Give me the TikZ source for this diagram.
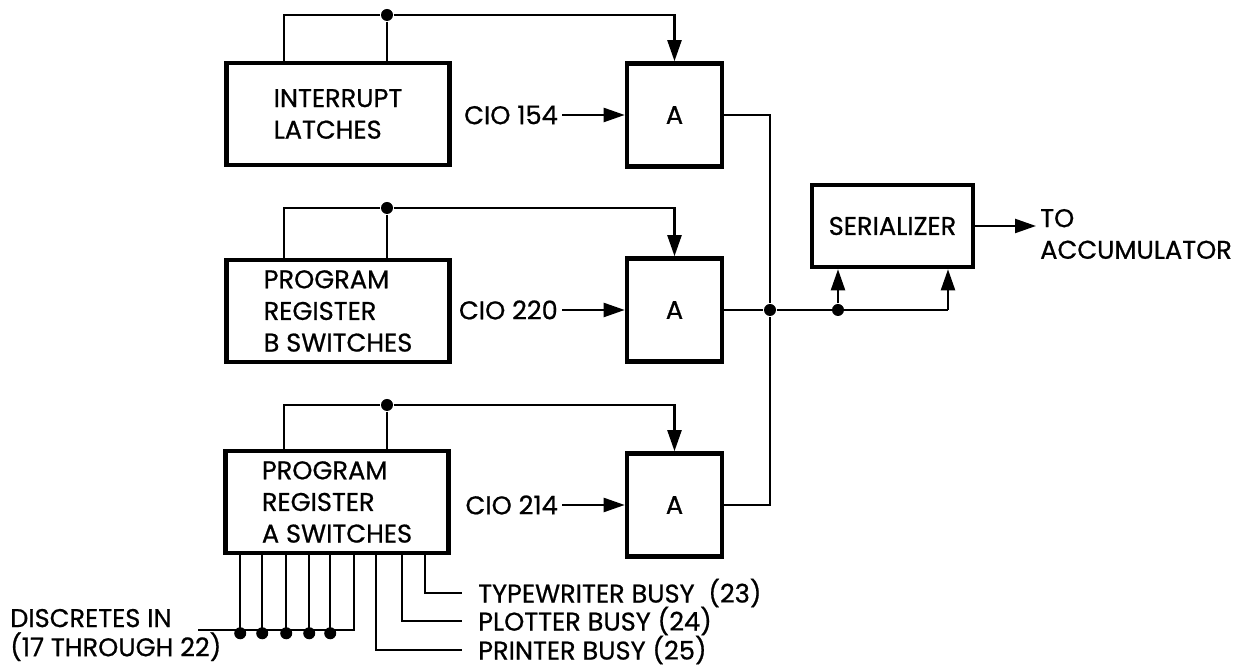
\documentclass[tikz,border=0pt]{standalone}
\usepackage{fontspec}
\setmainfont{Poppins}[FakeBold=0.7]
\usetikzlibrary{arrows.meta, positioning, calc}

\begin{document}
\begin{tikzpicture}[
  every node/.style={font=\fontsize{7.3}{9}\selectfont},
  blk/.style={rectangle, draw, line width=1.3pt, minimum width=2.23cm,
              minimum height=1.02cm, align=left, inner sep=0pt},
  gate/.style={rectangle, draw, line width=1.3pt, minimum width=0.95cm,
               minimum height=1.03cm},
  lbl/.style={inner sep=1pt},
  wire/.style={line width=0.65pt},
  sig/.style={wire, -{Triangle[length=2.1mm, width=1.4mm]}},
  dot/.style={circle, fill, inner sep=0pt, minimum size=0.12cm}
]
\useasboundingbox (0,0) rectangle (12.49,6.70);

\node[blk] (il)  at (3.38,5.56) {INTERRUPT\\LATCHES};
\node[blk] (prb) at (3.38,3.59) {PROGRAM\\REGISTER\\B SWITCHES};
\node[blk] (pra) at (3.37,1.68) {PROGRAM\\REGISTER\\A SWITCHES};

\node[gate] (a1) at (6.745,5.55) {A};
\node[gate] (a2) at (6.745,3.60) {A};
\node[gate] (a3) at (6.745,1.65) {A};

\node[lbl, anchor=east] (cio1) at (5.62,5.55) {CIO 154};
\node[lbl, anchor=east] (cio2) at (5.62,3.60) {CIO 220};
\node[lbl, anchor=east] (cio3) at (5.62,1.65) {CIO 214};
\draw[sig] (cio1) -- (a1);
\draw[sig] (cio2) -- (a2);
\draw[sig] (cio3) -- (a3);

\node[dot] (ilb)  at (3.87,6.55) {};
\node[dot] (prbb) at (3.87,4.62) {};
\node[dot] (prab) at (3.87,2.65) {};
\draw[wire] (ilb) -- (ilb |- il.north);
\draw[wire] (prbb) -- (prbb |- prb.north);
\draw[wire] (prab) -- (prab |- pra.north);
\draw[sig] ($(il.north west)+(0.60,0)$) |- (ilb) -| (a1.north);
\draw[sig] ($(prb.north west)+(0.60,0)$) |- (prbb) -| (a2.north);
\draw[sig] ($(pra.north west)+(0.61,0)$) |- (prab) -| (a3.north);

\node[blk, align=center, minimum width=1.61cm, minimum height=0.82cm] (ser) at (8.925,4.44) {SERIALIZER};
\node[lbl, anchor=west, align=left] (acc) at (10.36,4.36) {TO\\ACCUMULATOR};
\draw[sig] (ser.east) -- (ser.east -| acc.west);

\node[dot] (j) at (7.70,3.60) {};
\node[dot] (k) at (8.38,3.60) {};
\coordinate (r) at (9.48,3.60);
\draw[wire] (a1.east) -| (j);
\draw[wire] (a3.east) -| (j);
\draw[wire] (a2) -- (j) -- (r);
\draw[sig] (k) -- (k |- ser.south);
\draw[sig] (r) -- (r |- ser.south);

\node[lbl, anchor=west, align=left, font=\fontsize{7.3}{8.3}\selectfont] (dis) at (0.06,0.35) {DISCRETES IN\\(17 THROUGH 22)};
\coordinate (din) at (1.98,0.40);
\draw[wire] (din) -| ($(pra.south west)+(1.31,0)$);
\foreach \dx in {0.17,0.39,0.63,0.86,1.07}
  \draw[wire] ($(pra.south west)+(\dx,0)$) -- +(0,-0.78) node[dot] {};

\node[lbl, anchor=west] (tw) at (4.74,0.77) {TYPEWRITER BUSY\ \ (23)};
\node[lbl, anchor=west] (pl) at (4.74,0.49) {PLOTTER BUSY (24)};
\node[lbl, anchor=west] (pr) at (4.74,0.20) {PRINTER BUSY (25)};
\draw[wire] ($(pra.south west)+(2.02,0)$) |- ([xshift=-0.12cm]tw.west);
\draw[wire] ($(pra.south west)+(1.79,0)$) |- ([xshift=-0.12cm]pl.west);
\draw[wire] ($(pra.south west)+(1.53,0)$) |- ([xshift=-0.12cm]pr.west);
\end{tikzpicture}
\end{document}
